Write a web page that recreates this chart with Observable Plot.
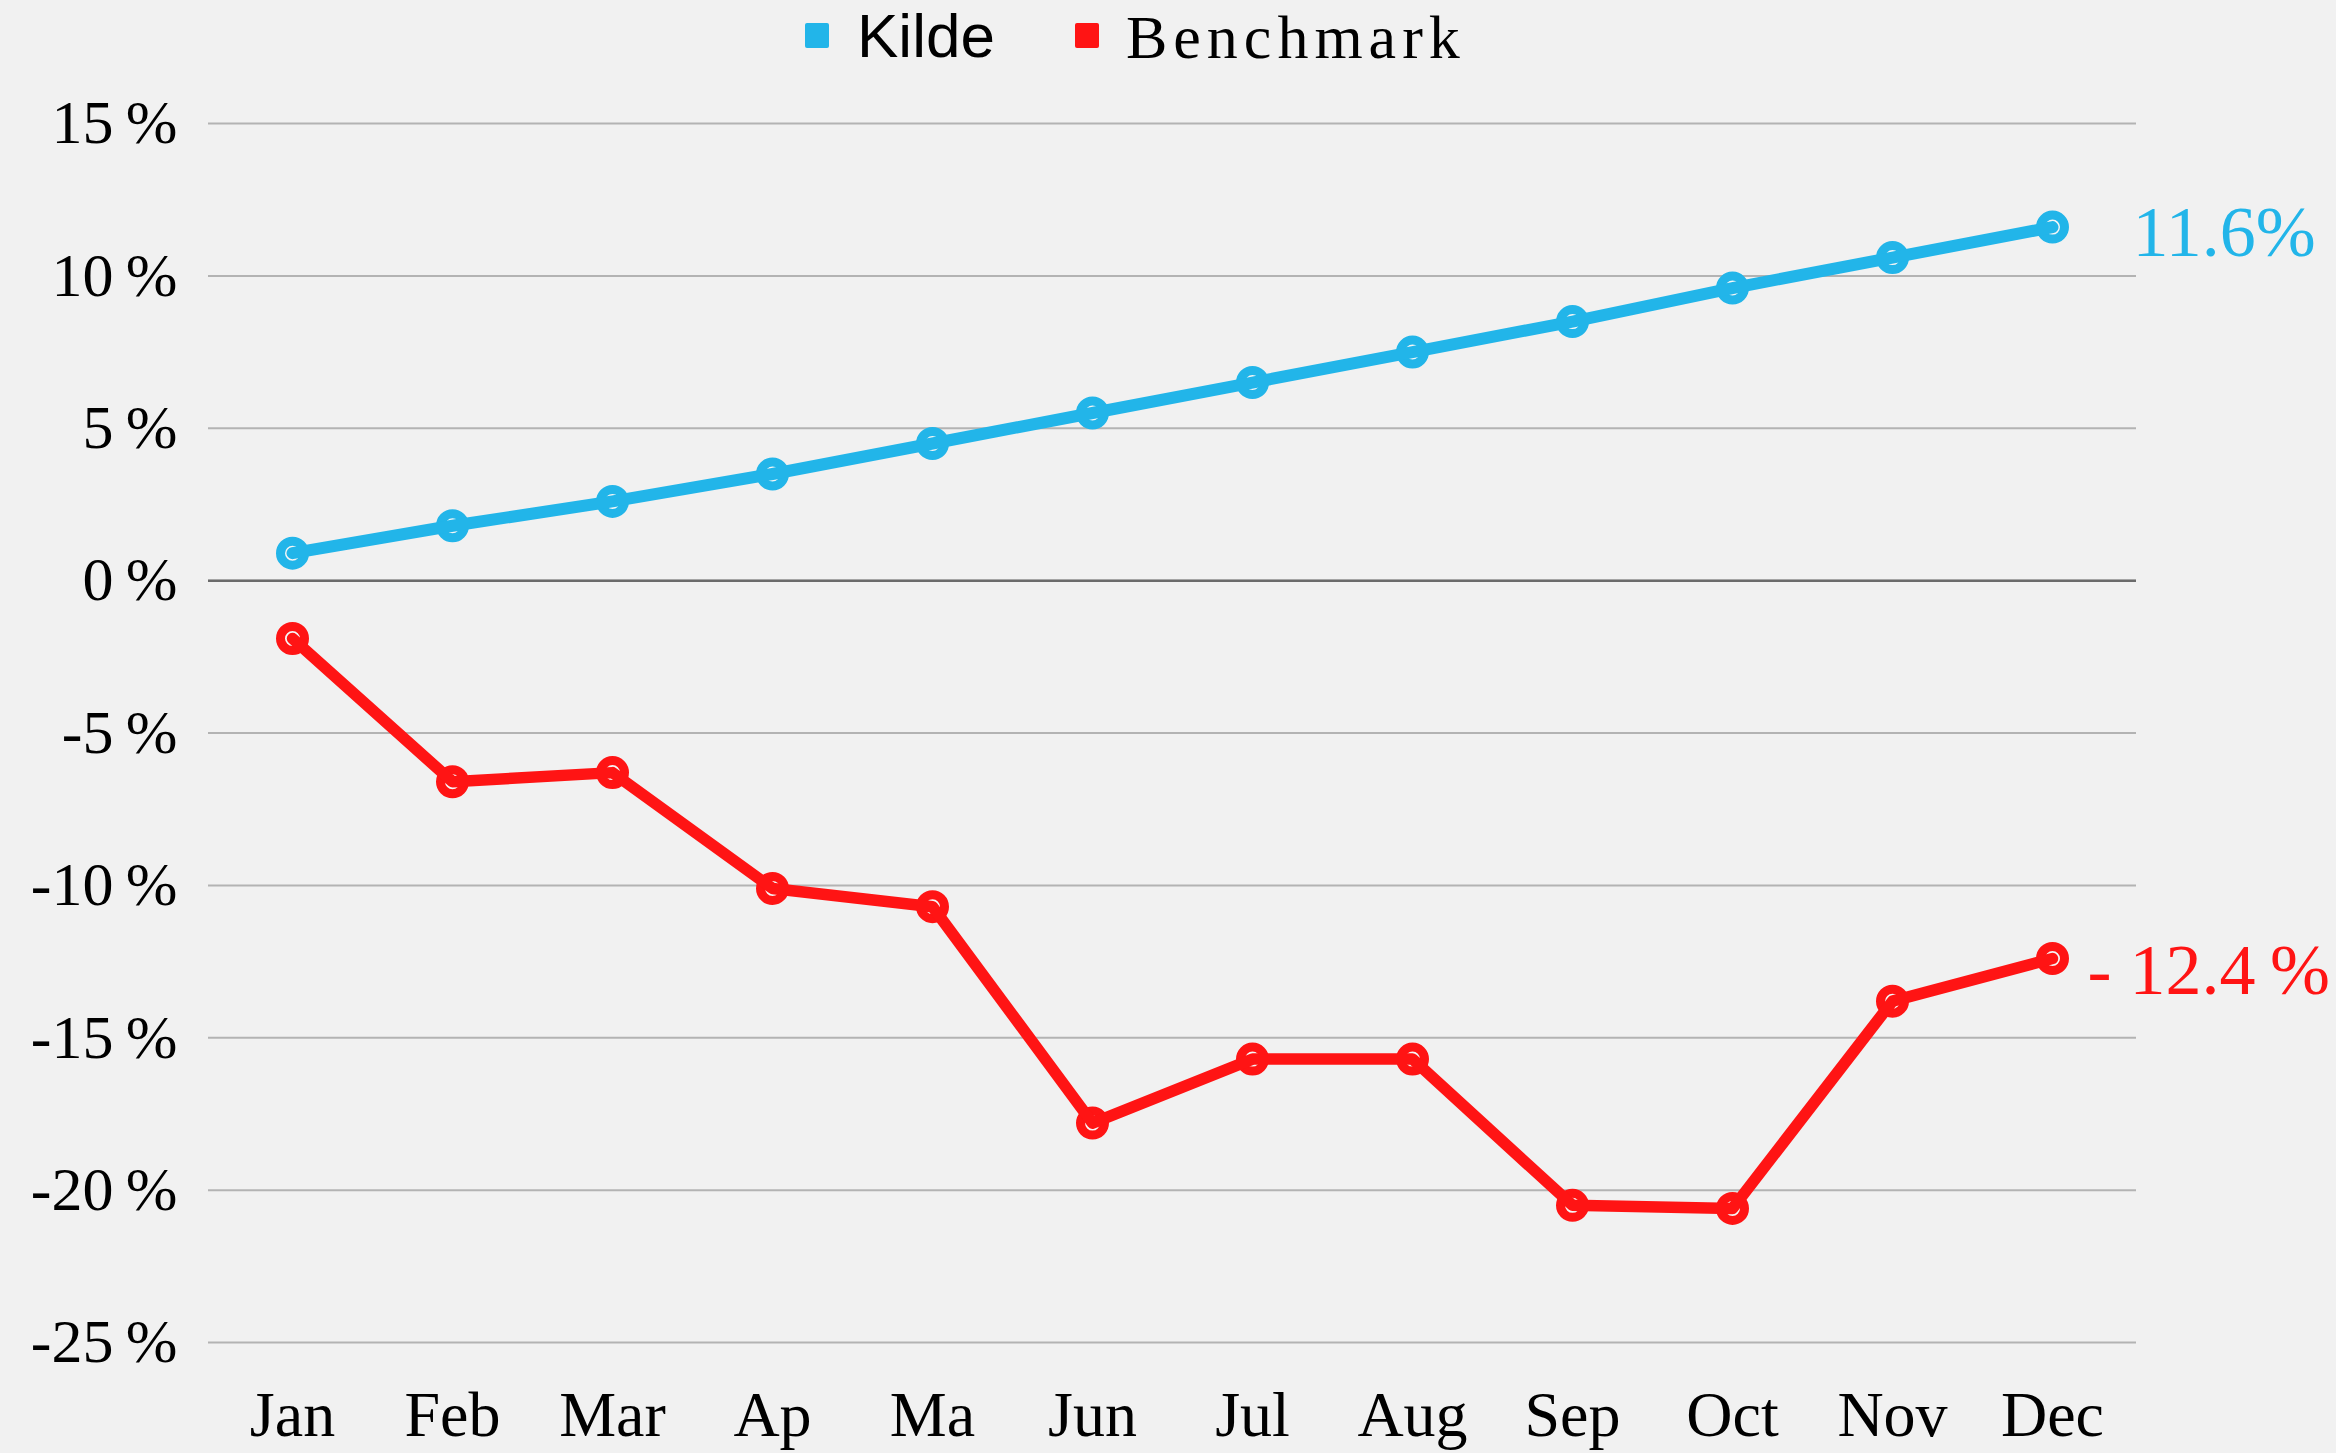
<!DOCTYPE html>
<html>
<head>
<meta charset="utf-8">
<script src="https://cdn.jsdelivr.net/npm/d3@7"></script>
<script src="https://cdn.jsdelivr.net/npm/@observablehq/plot@0.6"></script>
<style>
  html, body { margin: 0; padding: 0; background: #f1f1f1; }
  #wrap { width: 2336px; height: 1453px; position: relative; overflow: hidden; }
  #legend { position: relative; width: 2336px; height: 80px; }
  .sw { position: absolute; top: 23px; width: 24px; height: 25px; border-radius: 2px; }
  .lt { position: absolute; top: 0; line-height: 1; font-size: 62px; color: #000; white-space: nowrap; }
</style>
</head>
<body>
<div id="wrap">
  <div id="legend">
    <div class="sw" style="left:805px;background:#22b5e9"></div>
    <div class="lt" style="left:857px;top:5px;font-family:'Liberation Sans',Arial,sans-serif;">Kilde</div>
    <div class="sw" style="left:1075px;background:#ff1414"></div>
    <div class="lt" style="left:1126px;top:6px;font-family:'Liberation Serif','Times New Roman',serif;letter-spacing:6px;">Benchmark</div>
  </div>
  <div id="chart"></div>
</div>
<script>
const months = ["Jan","Feb","Mar","Ap","Ma","Jun","Jul","Aug","Sep","Oct","Nov","Dec"];
const kilde = [0.9, 1.8, 2.6, 3.5, 4.5, 5.5, 6.5, 7.5, 8.5, 9.6, 10.6, 11.6];
const benchmark = [-1.9, -6.6, -6.3, -10.1, -10.7, -17.8, -15.7, -15.7, -20.5, -20.6, -13.8, -12.4];
const yTicks = [15, 10, 5, 0, -5, -10, -15, -20, -25];
const seriesNames = ["Kilde", "Benchmark"];
const seriesColors = ["#22b5e9", "#ff1414"];

const rows = [];
months.forEach((m, i) => {
  rows.push({month: m, value: kilde[i], series: seriesNames[0]});
  rows.push({month: m, value: benchmark[i], series: seriesNames[1]});
});
const kRows = rows.filter(d => d.series === "Kilde");
const bRows = rows.filter(d => d.series === "Benchmark");
const kLast = kRows[kRows.length - 1];
const bLast = bRows[bRows.length - 1];

const chart = Plot.plot({
  width: 2336,
  height: 1373,
  marginLeft: 208,
  marginRight: 200,
  marginTop: 43,
  marginBottom: 111,
  x: {type: "point", domain: months, padding: 0.5, align: 0.5},
  y: {domain: [-25, 15]},
  style: {background: "#f1f1f1", fontFamily: "'Liberation Serif', 'Times New Roman', serif", color: "#000", overflow: "visible"},
  marks: [
    Plot.gridY(yTicks, {stroke: "#b3b3b3", strokeOpacity: 1, strokeWidth: 2}),
    Plot.ruleY([0], {stroke: "#6b6b6b", strokeWidth: 2.5}),
    Plot.axisY(yTicks, {tickSize: 0, tickPadding: 31, tickFormat: d => `${d}\u2009%`, fontSize: 62, label: null, fill: "#000"}),
    Plot.axisX({tickSize: 0, tickPadding: 48, fontSize: 64, label: null, fill: "#000", style: {letterSpacing: "2px"}}),
    Plot.dot(kRows, {x: "month", y: "value", r: 12, stroke: seriesColors[0], strokeWidth: 9, fill: "#f6f6f6"}),
    Plot.dot(bRows, {x: "month", y: "value", r: 12, stroke: seriesColors[1], strokeWidth: 9, fill: "#f6f6f6"}),
    Plot.line(kRows, {x: "month", y: "value", stroke: seriesColors[0], strokeWidth: 12, strokeLinejoin: "round"}),
    Plot.line(bRows, {x: "month", y: "value", stroke: seriesColors[1], strokeWidth: 11.5, strokeLinejoin: "round"}),
    Plot.text([kLast], {x: "month", y: "value", text: d => `${d.value.toFixed(1)}%`, fill: seriesColors[0], fontSize: 72, textAnchor: "start", dx: 80, dy: 6}),
    Plot.text([bLast], {x: "month", y: "value", text: d => `- ${Math.abs(d.value).toFixed(1)}\u2009%`, fill: seriesColors[1], fontSize: 72, textAnchor: "start", dx: 35, dy: 12})
  ]
});
document.getElementById("chart").appendChild(chart);
</script>
</body>
</html>
